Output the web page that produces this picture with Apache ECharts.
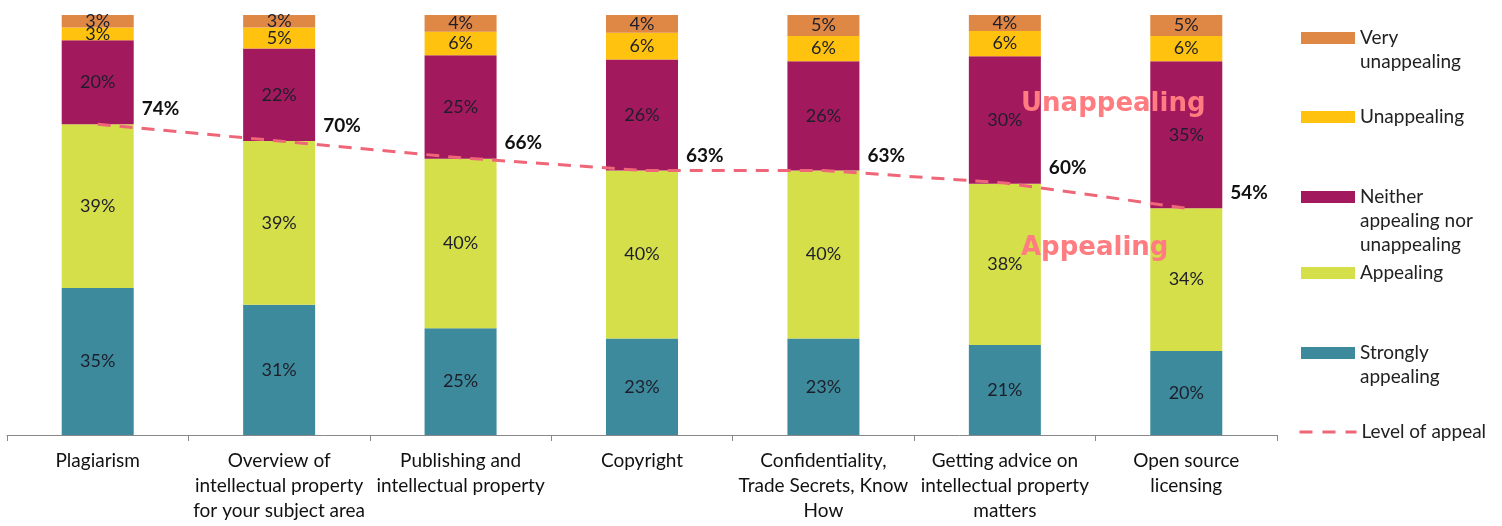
<!DOCTYPE html>
<html><head><meta charset="utf-8">
<script src="https://cdn.jsdelivr.net/npm/echarts@6/dist/echarts.min.js"></script>
<style>html,body{margin:0;padding:0;background:#fff}#c{width:1502px;height:526px}</style>
</head><body><div id="c"></div>
<script>
const categories = ['Plagiarism', 'Overview of\nintellectual property\nfor your subject area', 'Publishing and\nintellectual property', 'Copyright', 'Confidentiality,\nTrade Secrets, Know\nHow', 'Getting advice on\nintellectual property\nmatters', 'Open source\nlicensing'];
const stronglyAppealing = [35, 31, 25.4, 23, 23, 21.4, 20];
const appealing = [39, 39, 40.4, 40, 40, 38.4, 34];
const neither = [20, 22, 24.6, 26.4, 26, 30.4, 35];
const unappealing = [3, 5, 5.6, 6.4, 6, 6, 6];
const veryUnappealing = [3, 3, 4, 4.2, 5, 3.8, 5];
const levelOfAppeal = [74, 70, 66, 63, 63, 60, 54];

const FONT = 'Lato';
const colors = {
  'Strongly appealing': '#3C8A9C',
  'Appealing': '#D5DF4A',
  'Neither appealing nor unappealing': '#A3195E',
  'Unappealing': '#FFC20E',
  'Very unappealing': '#DF8744',
  'Level of appeal': '#EE6677'
};
const legendText = {
  'Very unappealing': 'Very\nunappealing',
  'Unappealing': 'Unappealing',
  'Neither appealing nor unappealing': 'Neither\nappealing nor\nunappealing',
  'Appealing': 'Appealing',
  'Strongly appealing': 'Strongly\nappealing',
  'Level of appeal': 'Level of appeal'
};
const legendY = {
  'Very unappealing': 38, 'Unappealing': 117, 'Neither appealing nor unappealing': 197,
  'Appealing': 273, 'Strongly appealing': 353, 'Level of appeal': 432
};
const LH = 24;
const legends = Object.keys(legendY).map(name => {
  const n = legendText[name].split('\n').length;
  const isLine = name === 'Level of appeal';
  const lg = {
    data: [name], orient: 'vertical', left: 1301, top: legendY[name] - (2 * n - 1) * LH / 2, padding: 0,
    itemWidth: 54, itemHeight: 12, selectedMode: false,
    formatter: () => '\n'.repeat(n - 1) + legendText[name],
    textStyle: { fontFamily: FONT, fontSize: 19, color: '#222', lineHeight: LH }
  };
  if (isLine) {
    lg.left = 1298;
    lg.itemWidth = 57;
    lg.itemStyle = { opacity: 0 };
    lg.lineStyle = { color: colors[name], width: 3, type: [13, 10] };
  } else {
    lg.icon = 'rect';
  }
  return lg;
});

function barSeries(name, data) {
  return {
    name, type: 'bar', stack: 'total', data, barWidth: 72,
    itemStyle: { color: colors[name] },
    label: { show: true, position: 'inside', formatter: p => Math.round(p.value) + '%',
      fontFamily: FONT, fontSize: 18, color: '#1e1e2a' }
  };
}

const chart = echarts.init(document.getElementById('c'));
chart.setOption({
  animation: false,
  backgroundColor: '#fff',
  grid: { left: 7, right: 225, top: 15, bottom: 91 },
  legend: legends,
  xAxis: {
    type: 'category', data: categories,
    axisLine: { lineStyle: { color: '#888', width: 1 } },
    axisTick: { show: true, length: 6, lineStyle: { color: '#888' } },
    axisLabel: { fontFamily: FONT, fontSize: 19, color: '#111', lineHeight: 25, margin: 13, interval: 0 }
  },
  yAxis: { type: 'value', min: 0, max: 100, show: false, splitLine: { show: false } },
  series: [
    barSeries('Strongly appealing', stronglyAppealing),
    barSeries('Appealing', appealing),
    barSeries('Neither appealing nor unappealing', neither),
    barSeries('Unappealing', unappealing),
    barSeries('Very unappealing', veryUnappealing),
    {
      name: 'Level of appeal', type: 'line', data: levelOfAppeal, z: 10,
      symbol: 'circle', symbolSize: 0, showSymbol: true,
      itemStyle: { color: colors['Level of appeal'] },
      lineStyle: { color: colors['Level of appeal'], width: 3, type: [13, 9] },
      label: { show: true, position: 'right', distance: 0, offset: [44, -15],
        formatter: p => p.value + '%', fontFamily: FONT, fontSize: 19, fontWeight: 'bold', color: '#111' }
    }
  ],
  graphic: [
    { type: 'text', left: 1021, top: 91, z: 100, style: { text: 'Unappealing', fill: '#FF7C80', font: 'bold 26px "DejaVu Sans"' } },
    { type: 'text', left: 1021, top: 235, z: 100, style: { text: 'Appealing', fill: '#FF7C80', font: 'bold 26px "DejaVu Sans"' } }
  ]
});
</script></body></html>
